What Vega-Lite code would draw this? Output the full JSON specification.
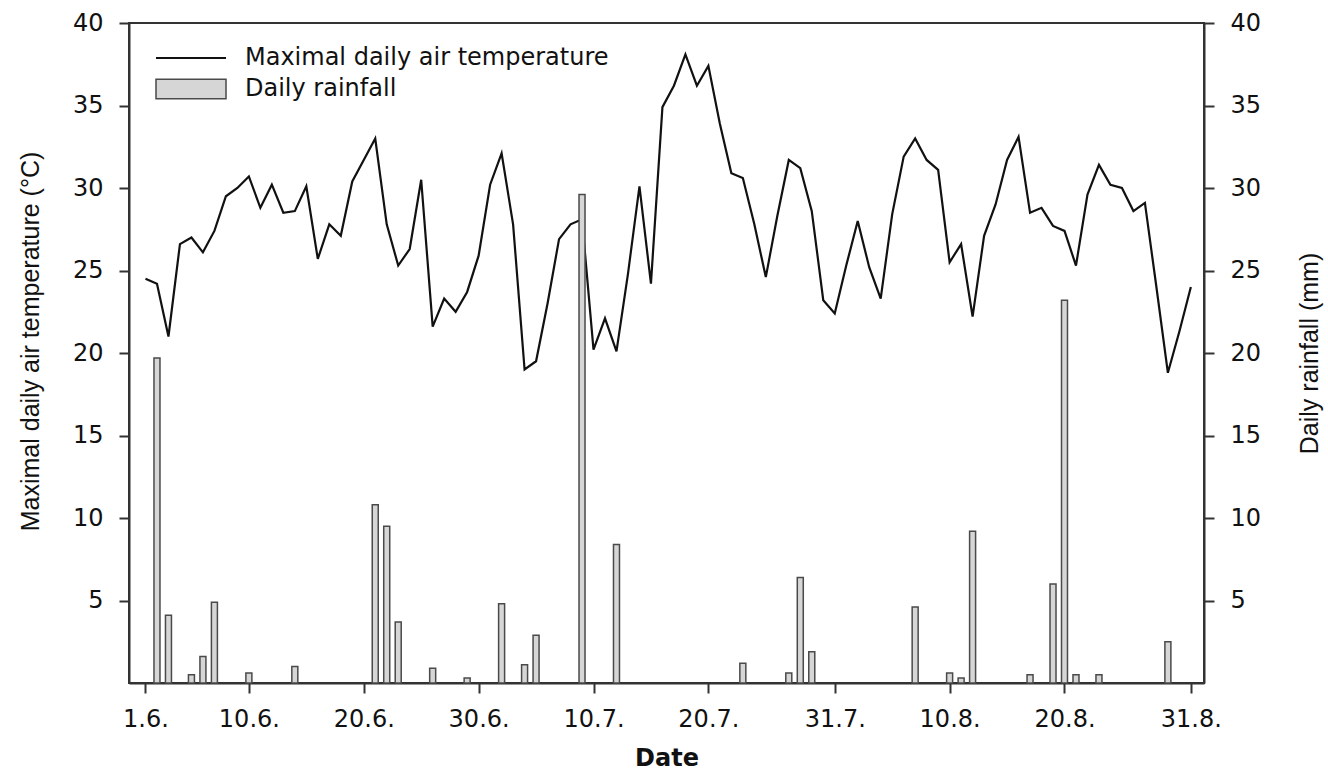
{
  "$schema": "https://vega.github.io/schema/vega-lite/v6.json",
  "width": 1075,
  "height": 660,
  "autosize": {"type": "none"},
  "padding": {"left": 129, "top": 23, "right": 124, "bottom": 87},
  "background": "white",
  "config": {
    "view": {"stroke": "#333333", "strokeWidth": 2},
    "axis": {
      "labelFont": "DejaVu Sans",
      "labelFontSize": 24,
      "labelColor": "#111111",
      "titleFont": "DejaVu Sans",
      "titleColor": "#111111",
      "titleFontWeight": "normal",
      "domainColor": "#333333",
      "domainWidth": 2,
      "tickColor": "#333333",
      "tickWidth": 2,
      "tickSize": 10,
      "grid": false,
      "labelPadding": 16
    }
  },
  "datasets": {
    "temp": [
      {"date": "2023-06-01", "tmax": 24.5}, {"date": "2023-06-02", "tmax": 24.2}, {"date": "2023-06-03", "tmax": 21.0},
      {"date": "2023-06-04", "tmax": 26.6}, {"date": "2023-06-05", "tmax": 27.0}, {"date": "2023-06-06", "tmax": 26.1},
      {"date": "2023-06-07", "tmax": 27.4}, {"date": "2023-06-08", "tmax": 29.5}, {"date": "2023-06-09", "tmax": 30.0},
      {"date": "2023-06-10", "tmax": 30.7}, {"date": "2023-06-11", "tmax": 28.8}, {"date": "2023-06-12", "tmax": 30.2},
      {"date": "2023-06-13", "tmax": 28.5}, {"date": "2023-06-14", "tmax": 28.6}, {"date": "2023-06-15", "tmax": 30.1},
      {"date": "2023-06-16", "tmax": 25.7}, {"date": "2023-06-17", "tmax": 27.8}, {"date": "2023-06-18", "tmax": 27.1},
      {"date": "2023-06-19", "tmax": 30.4}, {"date": "2023-06-20", "tmax": 31.7}, {"date": "2023-06-21", "tmax": 33.0},
      {"date": "2023-06-22", "tmax": 27.8}, {"date": "2023-06-23", "tmax": 25.3}, {"date": "2023-06-24", "tmax": 26.3},
      {"date": "2023-06-25", "tmax": 30.5}, {"date": "2023-06-26", "tmax": 21.6}, {"date": "2023-06-27", "tmax": 23.3},
      {"date": "2023-06-28", "tmax": 22.5}, {"date": "2023-06-29", "tmax": 23.7}, {"date": "2023-06-30", "tmax": 25.9},
      {"date": "2023-07-01", "tmax": 30.2}, {"date": "2023-07-02", "tmax": 32.1}, {"date": "2023-07-03", "tmax": 27.8},
      {"date": "2023-07-04", "tmax": 19.0}, {"date": "2023-07-05", "tmax": 19.5}, {"date": "2023-07-06", "tmax": 23.0},
      {"date": "2023-07-07", "tmax": 26.9}, {"date": "2023-07-08", "tmax": 27.8}, {"date": "2023-07-09", "tmax": 28.1},
      {"date": "2023-07-10", "tmax": 20.2}, {"date": "2023-07-11", "tmax": 22.1}, {"date": "2023-07-12", "tmax": 20.1},
      {"date": "2023-07-13", "tmax": 24.8}, {"date": "2023-07-14", "tmax": 30.1}, {"date": "2023-07-15", "tmax": 24.2},
      {"date": "2023-07-16", "tmax": 34.9}, {"date": "2023-07-17", "tmax": 36.2}, {"date": "2023-07-18", "tmax": 38.1},
      {"date": "2023-07-19", "tmax": 36.2}, {"date": "2023-07-20", "tmax": 37.4}, {"date": "2023-07-21", "tmax": 33.9},
      {"date": "2023-07-22", "tmax": 30.9}, {"date": "2023-07-23", "tmax": 30.6}, {"date": "2023-07-24", "tmax": 27.8},
      {"date": "2023-07-25", "tmax": 24.6}, {"date": "2023-07-26", "tmax": 28.3}, {"date": "2023-07-27", "tmax": 31.7},
      {"date": "2023-07-28", "tmax": 31.2}, {"date": "2023-07-29", "tmax": 28.6}, {"date": "2023-07-30", "tmax": 23.2},
      {"date": "2023-07-31", "tmax": 22.4}, {"date": "2023-08-01", "tmax": 25.3}, {"date": "2023-08-02", "tmax": 28.0},
      {"date": "2023-08-03", "tmax": 25.2}, {"date": "2023-08-04", "tmax": 23.3}, {"date": "2023-08-05", "tmax": 28.4},
      {"date": "2023-08-06", "tmax": 31.9}, {"date": "2023-08-07", "tmax": 33.0}, {"date": "2023-08-08", "tmax": 31.7},
      {"date": "2023-08-09", "tmax": 31.1}, {"date": "2023-08-10", "tmax": 25.5}, {"date": "2023-08-11", "tmax": 26.6},
      {"date": "2023-08-12", "tmax": 22.2}, {"date": "2023-08-13", "tmax": 27.1}, {"date": "2023-08-14", "tmax": 29.0},
      {"date": "2023-08-15", "tmax": 31.7}, {"date": "2023-08-16", "tmax": 33.1}, {"date": "2023-08-17", "tmax": 28.5},
      {"date": "2023-08-18", "tmax": 28.8}, {"date": "2023-08-19", "tmax": 27.7}, {"date": "2023-08-20", "tmax": 27.4},
      {"date": "2023-08-21", "tmax": 25.3}, {"date": "2023-08-22", "tmax": 29.6}, {"date": "2023-08-23", "tmax": 31.4},
      {"date": "2023-08-24", "tmax": 30.2}, {"date": "2023-08-25", "tmax": 30.0}, {"date": "2023-08-26", "tmax": 28.6},
      {"date": "2023-08-27", "tmax": 29.1}, {"date": "2023-08-28", "tmax": 24.0}, {"date": "2023-08-29", "tmax": 18.8},
      {"date": "2023-08-30", "tmax": 21.3}, {"date": "2023-08-31", "tmax": 24.0}
    ],
    "rain": [
      {"date": "2023-06-02", "rain": 19.7}, {"date": "2023-06-03", "rain": 4.1}, {"date": "2023-06-05", "rain": 0.5},
      {"date": "2023-06-06", "rain": 1.6}, {"date": "2023-06-07", "rain": 4.9}, {"date": "2023-06-10", "rain": 0.6},
      {"date": "2023-06-14", "rain": 1.0}, {"date": "2023-06-21", "rain": 10.8}, {"date": "2023-06-22", "rain": 9.5},
      {"date": "2023-06-23", "rain": 3.7}, {"date": "2023-06-26", "rain": 0.9}, {"date": "2023-06-29", "rain": 0.3},
      {"date": "2023-07-02", "rain": 4.8}, {"date": "2023-07-04", "rain": 1.1}, {"date": "2023-07-05", "rain": 2.9},
      {"date": "2023-07-09", "rain": 29.6}, {"date": "2023-07-12", "rain": 8.4}, {"date": "2023-07-23", "rain": 1.2},
      {"date": "2023-07-27", "rain": 0.6}, {"date": "2023-07-28", "rain": 6.4}, {"date": "2023-07-29", "rain": 1.9},
      {"date": "2023-08-07", "rain": 4.6}, {"date": "2023-08-10", "rain": 0.6}, {"date": "2023-08-11", "rain": 0.3},
      {"date": "2023-08-12", "rain": 9.2}, {"date": "2023-08-17", "rain": 0.5}, {"date": "2023-08-19", "rain": 6.0},
      {"date": "2023-08-20", "rain": 23.2}, {"date": "2023-08-21", "rain": 0.5}, {"date": "2023-08-23", "rain": 0.5},
      {"date": "2023-08-29", "rain": 2.5}
    ]
  },
  "encoding": {
    "x": {
      "field": "date",
      "type": "temporal",
      "scale": {
        "type": "utc",
        "domain": [
          {"year": 2023, "month": 5, "date": 31, "utc": true},
          {"year": 2023, "month": 8, "date": 31, "hours": 17, "utc": true}
        ]
      },
      "axis": {
        "title": "Date",
        "titleFontSize": 24,
        "titleFontWeight": "bold",
        "titlePadding": 15,
        "format": "%-d.%-m.",
        "labelPadding": 14,
        "labelOverlap": false,
        "values": [
          {"year": 2023, "month": 6, "date": 1, "utc": true},
          {"year": 2023, "month": 6, "date": 10, "utc": true},
          {"year": 2023, "month": 6, "date": 20, "utc": true},
          {"year": 2023, "month": 6, "date": 30, "utc": true},
          {"year": 2023, "month": 7, "date": 10, "utc": true},
          {"year": 2023, "month": 7, "date": 20, "utc": true},
          {"year": 2023, "month": 7, "date": 31, "utc": true},
          {"year": 2023, "month": 8, "date": 10, "utc": true},
          {"year": 2023, "month": 8, "date": 20, "utc": true},
          {"year": 2023, "month": 8, "date": 31, "utc": true}
        ]
      }
    }
  },
  "layer": [
    {
      "data": {"name": "temp"},
      "mark": {"type": "line", "strokeWidth": 2.2, "interpolate": "linear"},
      "encoding": {
        "y": {
          "field": "tmax",
          "type": "quantitative",
          "scale": {"domain": [0, 40], "nice": false, "zero": true},
          "axis": {
            "orient": "left",
            "title": "Maximal daily air temperature (°C)",
            "titleFont": "Liberation Sans",
            "titleFontSize": 25,
            "titlePadding": 29,
            "titleY": 318,
            "values": [5, 10, 15, 20, 25, 30, 35, 40]
          }
        },
        "stroke": {
          "datum": "Maximal daily air temperature",
          "type": "nominal",
          "scale": {"range": ["#111111"]},
          "legend": {
            "orient": "none",
            "legendX": 26,
            "legendY": -1,
            "title": null,
            "padding": 0,
            "symbolType": "stroke",
            "symbolSize": 4900,
            "symbolStrokeWidth": 2,
            "labelFont": "DejaVu Sans",
            "labelFontSize": 24,
            "labelColor": "#111111",
            "labelOffset": 18,
            "labelLimit": 600
          }
        }
      }
    },
    {
      "data": {"name": "rain"},
      "mark": {"type": "bar", "size": 6, "stroke": "#4a4a4a", "strokeWidth": 1.5},
      "encoding": {
        "y": {
          "field": "rain",
          "type": "quantitative",
          "scale": {"domain": [0, 40], "nice": false, "zero": true},
          "axis": {
            "orient": "right",
            "title": "Daily rainfall (mm)",
            "titleFont": "Liberation Sans",
            "titleFontSize": 25,
            "titleAngle": 270,
            "titlePadding": 62,
            "values": [5, 10, 15, 20, 25, 30, 35, 40]
          }
        },
        "fill": {
          "datum": "Daily rainfall",
          "type": "nominal",
          "scale": {"range": ["#d6d6d6"]},
          "legend": {
            "orient": "none",
            "legendX": 26,
            "legendY": 30,
            "title": null,
            "padding": 0,
            "symbolType": "M-1,-0.28H1V0.28H-1Z",
            "symbolSize": 4900,
            "symbolStrokeColor": "#4a4a4a",
            "symbolStrokeWidth": 1.5,
            "labelFont": "DejaVu Sans",
            "labelFontSize": 24,
            "labelColor": "#111111",
            "labelOffset": 18,
            "labelLimit": 600
          }
        }
      }
    }
  ],
  "resolve": {"scale": {"y": "independent"}}
}
